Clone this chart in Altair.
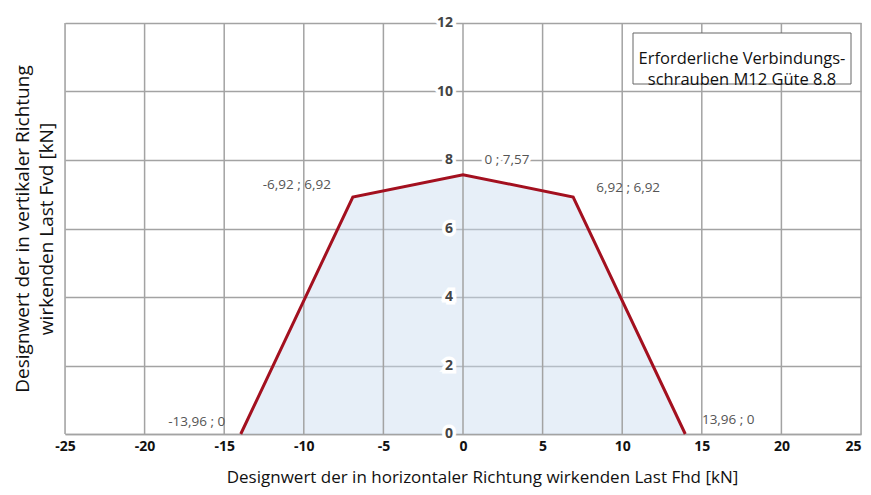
import altair as alt
import pandas as pd

# Data
x_vals = [-13.96, -6.92, 0.0, 6.92, 13.96]
y_vals = [0.0, 6.92, 7.57, 6.92, 0.0]
point_labels = ["-13,96 ; 0", "-6,92 ; 6,92", "0 ; 7,57", "6,92 ; 6,92", "13,96 ; 0"]
x_ticks = [-25, -20, -15, -10, -5, 0, 5, 10, 15, 20, 25]
y_ticks = [0, 2, 4, 6, 8, 10, 12]
legend_lines = ["Erforderliche Verbindungs-", "schrauben M12 Güte 8.8"]
x_title = "Designwert der in horizontaler Richtung wirkenden Last Fhd [kN]"
y_title = ["Designwert der in vertikaler Richtung", "wirkenden Last Fvd [kN]"]

FONT = "Open Sans"
GRID = "#a3a3a3"
W, H = 796, 411

df = pd.DataFrame({"x": x_vals, "y": y_vals, "label": point_labels})
df_y = pd.DataFrame({"x": [0] * len(y_ticks), "y": y_ticks, "t": [str(v) for v in y_ticks]})
df_xg = pd.DataFrame({"x": x_ticks})

xscale = alt.Scale(domain=[-25, 25], nice=False, zero=False)
yscale = alt.Scale(domain=[0, 12], nice=False)

X = alt.X("x:Q", scale=xscale,
          axis=alt.Axis(values=x_ticks, title=x_title, grid=False, ticks=False,
                        labelExpr="'' + datum.value", labelFlush=False,
                        labelAlign=alt.expr("datum.value == 25 ? 'right' : 'center'"),
                        labelFontWeight="bold", labelFontSize=14, labelColor="#111",
                        labelPadding=5, labelFont=FONT, titleFont=FONT,
                        titleFontSize=17, titleFontWeight="normal", titleColor="#111",
                        titleX=417, titleY=43, titleBaseline="middle", titleAlign="center",
                        domainColor=GRID, domainWidth=1.5))
Y = alt.Y("y:Q", scale=yscale,
          axis=alt.Axis(values=y_ticks, title=y_title, grid=True, ticks=False, labels=False,
                        domain=False, titleFont=FONT, titleFontSize=19,
                        titleFontWeight="normal", titleColor="#111", titlePadding=9,
                        titleLineHeight=24, gridColor=GRID, gridWidth=1.5))

base = alt.Chart(df)
area = base.mark_area(color="#c9dcf0", opacity=0.45).encode(x=X, y=Y)
line = base.mark_line(color="#a3101f", strokeWidth=3).encode(x="x:Q", y="y:Q")

# vertical grid lines drawn above the label backgrounds
vgrid = alt.Chart(df_xg).mark_rule(color=GRID, strokeWidth=1.5).encode(x="x:Q")

# center y-axis labels with a white halo
ybase = alt.Chart(df_y)
ylab_halo = ybase.mark_text(align="right", baseline="middle", dx=-10, font=FONT,
                            fontSize=14, fontWeight="bold", stroke="white",
                            strokeWidth=7, color="white").encode(x="x:Q", y="y:Q", text="t:N")
ylab = ybase.mark_text(align="right", baseline="middle", dx=-10, font=FONT,
                       fontSize=14, fontWeight="bold", color="#444").encode(x="x:Q", y="y:Q", text="t:N")

# point annotations
offsets = [(-44, -12), (-56, -12), (44, -15), (55, -9), (43, -14)]
halo_layers, text_layers = [], []
for i, (dx, dy) in enumerate(offsets):
    sub = alt.Chart(df.iloc[[i]])
    halo_layers.append(sub.mark_text(align="center", baseline="middle", dx=dx, dy=dy,
                                     font=FONT, fontSize=13.5, stroke="white", strokeWidth=7,
                                     color="white").encode(x="x:Q", y="y:Q", text="label:N"))
    text_layers.append(sub.mark_text(align="center", baseline="middle", dx=dx, dy=dy,
                                     font=FONT, fontSize=13.5, color="#555").encode(
        x="x:Q", y="y:Q", text="label:N"))

# legend-like text box
box = alt.Chart(pd.DataFrame({"a": [0]})).mark_rect(
    fill="white", stroke="#666", strokeWidth=1).encode(
    x=alt.value(568), x2=alt.value(786), y=alt.value(10), y2=alt.value(61))
box_text = alt.Chart(pd.DataFrame({"t": [legend_lines]})).mark_text(
    align="center", baseline="middle", font=FONT, fontSize=16.5, color="#111",
    lineHeight=21).encode(x=alt.value(677), y=alt.value(36), text="t")

chart = alt.layer(area, ylab_halo, *halo_layers, vgrid, line, ylab, *text_layers,
                  box, box_text).properties(
    width=W, height=H,
    autosize=alt.AutoSizeParams(type="none"),
    padding={"left": 57, "top": 15, "right": 2, "bottom": 53},
).configure_view(stroke=GRID, strokeWidth=1.5).configure(background="white")

chart.save("out.html", embed_options={"renderer": "svg", "actions": False})
